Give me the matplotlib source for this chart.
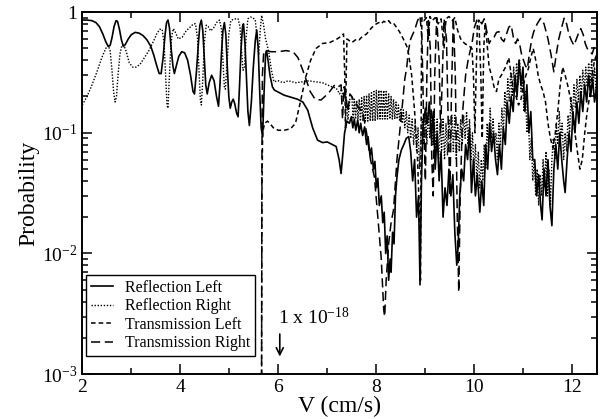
import matplotlib
matplotlib.use("Agg")
import matplotlib.pyplot as plt
from matplotlib.ticker import LogLocator, FixedLocator, FuncFormatter, NullFormatter

plt.rcParams['font.family'] = ['Liberation Serif', 'DejaVu Serif']

# (V, probability)
R_LEFT = [
    (2.00, 0.86), (2.10, 0.86), (2.20, 0.85), (2.28, 0.82), (2.35, 0.76), (2.42, 0.66),
    (2.48, 0.57), (2.53, 0.52), (2.57, 0.53), (2.61, 0.62), (2.65, 0.76), (2.69, 0.85),
    (2.72, 0.84), (2.76, 0.72), (2.80, 0.59), (2.84, 0.52), (2.88, 0.54), (2.94, 0.60),
    (3.00, 0.65), (3.08, 0.68), (3.16, 0.67), (3.24, 0.64), (3.32, 0.59), (3.40, 0.52),
    (3.46, 0.44), (3.52, 0.36), (3.57, 0.31), (3.61, 0.31), (3.65, 0.42), (3.69, 0.65),
    (3.72, 0.82), (3.75, 0.86), (3.78, 0.74), (3.81, 0.52), (3.85, 0.36), (3.88, 0.31),
    (3.92, 0.36), (3.97, 0.43), (4.03, 0.47), (4.09, 0.46), (4.15, 0.40), (4.21, 0.30),
    (4.26, 0.22), (4.29, 0.21), (4.33, 0.32), (4.37, 0.55), (4.40, 0.78), (4.43, 0.86),
    (4.46, 0.70), (4.49, 0.42), (4.52, 0.25), (4.55, 0.21), (4.59, 0.26), (4.64, 0.30),
    (4.69, 0.27), (4.74, 0.20), (4.78, 0.166), (4.81, 0.25), (4.84, 0.45), (4.87, 0.70),
    (4.90, 0.82), (4.93, 0.65), (4.96, 0.35), (4.99, 0.20), (5.02, 0.16), (5.05, 0.18),
    (5.08, 0.19), (5.11, 0.175), (5.15, 0.145), (5.18, 0.136), (5.21, 0.25), (5.24, 0.50),
    (5.27, 0.76), (5.29, 0.80), (5.32, 0.55), (5.35, 0.28), (5.38, 0.15), (5.41, 0.115),
    (5.45, 0.18), (5.49, 0.35), (5.53, 0.58), (5.56, 0.71), (5.59, 0.50), (5.62, 0.22),
    (5.65, 0.11), (5.68, 0.093), (5.71, 0.22), (5.74, 0.45), (5.76, 0.48), (5.79, 0.40),
    (5.83, 0.30), (5.88, 0.24), (5.92, 0.226), (6.12, 0.205),
    (6.39, 0.19), (6.50, 0.18), (6.60, 0.154), (6.70, 0.11), (6.80, 0.087), (6.90, 0.083),
    (7.00, 0.084), (7.10, 0.080), (7.18, 0.077), (7.24, 0.060), (7.28, 0.046), (7.32, 0.070),
    (7.35, 0.099), (7.40, 0.125), (7.45, 0.12), (7.49, 0.136), (7.52, 0.11), (7.55, 0.13),
    (7.58, 0.105), (7.62, 0.128), (7.65, 0.10), (7.68, 0.12), (7.72, 0.095), (7.76, 0.112),
    (7.80, 0.08), (7.83, 0.093), (7.87, 0.065), (7.90, 0.075), (7.94, 0.05), (7.97, 0.058),
    (8.00, 0.035), (8.03, 0.042), (8.06, 0.025), (8.10, 0.03), (8.13, 0.018), (8.16, 0.022),
    (8.19, 0.010), (8.22, 0.014), (8.25, 0.006), (8.28, 0.009), (8.30, 0.007), (8.33, 0.015),
    (8.36, 0.012), (8.39, 0.03), (8.42, 0.043), (8.46, 0.06), (8.51, 0.072), (8.56, 0.08),
    (8.61, 0.09), (8.66, 0.093), (8.70, 0.07), (8.74, 0.04), (8.78, 0.06), (8.82, 0.02),
    (8.86, 0.03), (8.89, 0.0055), (8.92, 0.04), (8.95, 0.11), (9.00, 0.16), (9.04, 0.12),
    (9.08, 0.18), (9.12, 0.09), (9.16, 0.15), (9.20, 0.05), (9.24, 0.10), (9.28, 0.04),
    (9.32, 0.07), (9.36, 0.02), (9.40, 0.035), (9.44, 0.025), (9.48, 0.05), (9.52, 0.03),
    (9.56, 0.045), (9.60, 0.015), (9.64, 0.008), (9.67, 0.012), (9.70, 0.03), (9.74, 0.05),
    (9.78, 0.04), (9.82, 0.08), (9.86, 0.06), (9.90, 0.11), (9.94, 0.032), (9.98, 0.06),
    (10.02, 0.03), (10.06, 0.045), (10.11, 0.022), (10.15, 0.04), (10.19, 0.025), (10.23, 0.08),
    (10.27, 0.05), (10.31, 0.12), (10.35, 0.07), (10.39, 0.10), (10.43, 0.06), (10.47, 0.045),
    (10.51, 0.08), (10.55, 0.05), (10.59, 0.11), (10.63, 0.08), (10.67, 0.18), (10.71, 0.12),
    (10.75, 0.20), (10.79, 0.15), (10.83, 0.30), (10.87, 0.20), (10.91, 0.40), (10.95, 0.25),
    (10.99, 0.35), (11.03, 0.15), (11.07, 0.25), (11.11, 0.10), (11.15, 0.15), (11.19, 0.06),
    (11.23, 0.06), (11.27, 0.03), (11.31, 0.045), (11.35, 0.025), (11.38, 0.019), (11.42, 0.05),
    (11.46, 0.03), (11.50, 0.06), (11.54, 0.025), (11.58, 0.017), (11.62, 0.05), (11.66, 0.08),
    (11.70, 0.05), (11.74, 0.10), (11.78, 0.06), (11.82, 0.04), (11.85, 0.032), (11.89, 0.06),
    (11.93, 0.10), (11.97, 0.07), (12.01, 0.15), (12.05, 0.10), (12.09, 0.18), (12.13, 0.12),
    (12.17, 0.22), (12.21, 0.15), (12.25, 0.25), (12.29, 0.18), (12.33, 0.30), (12.37, 0.20),
    (12.41, 0.28), (12.45, 0.18), (12.50, 0.25),
]

R_RIGHT = [
    (2.00, 0.17), (2.10, 0.20), (2.20, 0.25), (2.30, 0.32), (2.40, 0.42), (2.48, 0.50),
    (2.53, 0.53), (2.57, 0.48), (2.61, 0.32), (2.64, 0.22), (2.67, 0.18), (2.70, 0.20),
    (2.73, 0.30), (2.77, 0.45), (2.81, 0.53), (2.85, 0.53), (2.90, 0.47), (2.96, 0.38),
    (3.03, 0.35), (3.10, 0.35), (3.18, 0.37), (3.27, 0.42), (3.36, 0.48), (3.45, 0.57),
    (3.52, 0.66), (3.58, 0.72), (3.63, 0.72), (3.67, 0.55), (3.70, 0.30), (3.73, 0.17),
    (3.75, 0.16), (3.77, 0.25), (3.80, 0.45), (3.83, 0.65), (3.86, 0.73), (3.90, 0.68),
    (3.96, 0.60), (4.04, 0.62), (4.12, 0.70), (4.20, 0.75), (4.27, 0.80), (4.31, 0.80),
    (4.35, 0.62), (4.38, 0.35), (4.41, 0.19), (4.43, 0.17), (4.46, 0.28), (4.49, 0.55),
    (4.53, 0.78), (4.57, 0.76), (4.62, 0.70), (4.68, 0.74), (4.74, 0.82), (4.80, 0.86),
    (4.84, 0.72), (4.87, 0.40), (4.90, 0.24), (4.92, 0.23), (4.95, 0.35), (4.99, 0.65),
    (5.03, 0.85), (5.08, 0.87), (5.13, 0.88), (5.18, 0.88), (5.22, 0.75), (5.25, 0.48),
    (5.28, 0.33), (5.31, 0.35), (5.34, 0.60), (5.38, 0.88), (5.43, 0.91), (5.48, 0.90),
    (5.53, 0.86), (5.57, 0.60), (5.60, 0.44), (5.63, 0.70), (5.66, 0.94), (5.70, 0.78),
    (5.74, 0.60), (5.80, 0.48), (5.86, 0.33), (5.91, 0.265),
    (6.00, 0.27), (6.10, 0.26), (6.20, 0.27), (6.36, 0.26), (6.50, 0.265), (6.62, 0.27),
    (6.75, 0.265), (6.90, 0.26), (7.00, 0.25), (7.10, 0.24), (7.18, 0.235), (7.25, 0.21),
    (7.29, 0.23), (7.33, 0.19), (7.36, 0.23), (7.39, 0.17), (7.42, 0.128), (7.46, 0.19),
    (7.50, 0.20), (7.525, 0.13), (7.55, 0.19), (7.575, 0.13), (7.60, 0.185), (7.625, 0.13),
    (7.65, 0.19), (7.675, 0.125), (7.70, 0.195), (7.725, 0.125), (7.75, 0.20), (7.775, 0.125),
    (7.80, 0.205), (7.825, 0.125), (7.85, 0.21), (7.875, 0.125), (7.90, 0.215), (7.925, 0.125),
    (7.95, 0.22), (7.975, 0.125), (8.00, 0.225), (8.025, 0.13), (8.05, 0.225), (8.075, 0.13),
    (8.10, 0.226), (8.125, 0.13), (8.15, 0.225), (8.175, 0.13), (8.20, 0.22), (8.225, 0.13),
    (8.25, 0.21), (8.275, 0.13), (8.30, 0.20), (8.325, 0.13), (8.35, 0.19), (8.375, 0.13),
    (8.40, 0.18), (8.425, 0.13), (8.45, 0.17), (8.475, 0.125), (8.50, 0.16), (8.525, 0.12),
    (8.55, 0.155), (8.58, 0.11), (8.61, 0.15), (8.64, 0.10), (8.67, 0.14), (8.70, 0.09),
    (8.73, 0.13), (8.76, 0.08), (8.79, 0.12), (8.82, 0.07), (8.85, 0.11), (8.88, 0.05),
    (8.91, 0.10), (8.94, 0.13), (8.97, 0.08), (9.00, 0.14), (9.03, 0.08), (9.06, 0.15),
    (9.09, 0.09), (9.12, 0.15), (9.15, 0.08), (9.18, 0.14), (9.21, 0.07), (9.24, 0.13),
    (9.27, 0.06), (9.30, 0.12), (9.33, 0.07), (9.36, 0.13), (9.39, 0.06), (9.42, 0.12),
    (9.45, 0.065), (9.48, 0.13), (9.51, 0.07), (9.54, 0.14), (9.57, 0.07), (9.60, 0.14),
    (9.63, 0.06), (9.66, 0.12), (9.69, 0.07), (9.72, 0.13), (9.75, 0.08), (9.78, 0.14),
    (9.81, 0.09), (9.84, 0.15), (9.87, 0.08), (9.90, 0.13), (9.93, 0.06), (9.96, 0.10),
    (9.99, 0.05), (10.02, 0.08), (10.05, 0.04), (10.08, 0.07), (10.11, 0.035), (10.14, 0.06),
    (10.17, 0.04), (10.20, 0.08), (10.23, 0.05), (10.26, 0.12), (10.29, 0.07), (10.32, 0.16),
    (10.35, 0.09), (10.38, 0.13), (10.41, 0.08), (10.44, 0.10), (10.47, 0.06), (10.50, 0.12),
    (10.53, 0.08), (10.56, 0.16), (10.59, 0.10), (10.62, 0.22), (10.65, 0.14), (10.68, 0.28),
    (10.71, 0.18), (10.74, 0.32), (10.77, 0.20), (10.80, 0.35), (10.83, 0.22), (10.86, 0.38),
    (10.89, 0.25), (10.92, 0.40), (10.95, 0.22), (10.98, 0.30), (11.01, 0.15), (11.04, 0.22),
    (11.07, 0.10), (11.10, 0.14), (11.13, 0.06), (11.16, 0.09), (11.19, 0.04), (11.22, 0.06),
    (11.25, 0.03), (11.28, 0.05), (11.31, 0.025), (11.34, 0.045), (11.37, 0.03), (11.40, 0.06),
    (11.43, 0.035), (11.46, 0.07), (11.49, 0.03), (11.52, 0.05), (11.55, 0.025), (11.58, 0.06),
    (11.61, 0.09), (11.64, 0.06), (11.67, 0.12), (11.70, 0.08), (11.73, 0.15), (11.76, 0.09),
    (11.79, 0.12), (11.82, 0.06), (11.85, 0.10), (11.88, 0.07), (11.91, 0.14), (11.94, 0.10),
    (11.97, 0.20), (12.00, 0.13), (12.03, 0.25), (12.06, 0.16), (12.09, 0.28), (12.12, 0.18),
    (12.15, 0.30), (12.18, 0.20), (12.21, 0.33), (12.24, 0.22), (12.27, 0.35), (12.30, 0.24),
    (12.33, 0.38), (12.36, 0.26), (12.39, 0.40), (12.42, 0.25), (12.45, 0.35), (12.48, 0.22),
    (12.50, 0.30),
]

T_LEFT = [
    (5.655, 1e-4), (5.66, 0.002), (5.665, 0.03), (5.68, 0.10), (5.72, 0.12), (5.78, 0.125),
    (5.84, 0.118), (5.90, 0.11), (6.00, 0.105), (6.12, 0.105), (6.25, 0.108), (6.35, 0.12),
    (6.45, 0.18), (6.56, 0.29), (6.66, 0.40), (6.77, 0.50), (6.90, 0.55), (7.05, 0.56),
    (7.20, 0.60), (7.30, 0.64), (7.33, 0.66), (7.355, 0.30), (7.37, 0.11), (7.385, 0.30),
    (7.40, 0.60), (7.45, 0.58), (7.50, 0.56), (7.55, 0.58), (7.60, 0.60), (7.65, 0.59),
    (7.70, 0.62), (7.75, 0.64), (7.80, 0.66), (7.85, 0.70), (7.90, 0.74), (7.96, 0.78),
    (8.00, 0.80), (8.05, 0.82), (8.10, 0.80), (8.15, 0.84), (8.20, 0.82), (8.25, 0.85),
    (8.30, 0.80), (8.35, 0.81), (8.40, 0.76), (8.47, 0.69), (8.55, 0.60), (8.64, 0.50),
    (8.72, 0.30), (8.78, 0.15), (8.84, 0.06), (8.88, 0.02), (8.90, 0.006), (8.91, 0.05),
    (8.92, 0.50), (8.93, 0.90), (8.97, 0.85), (9.02, 0.90), (9.06, 0.60), (9.09, 0.92),
    (9.14, 0.85), (9.20, 0.90), (9.26, 0.80), (9.32, 0.88), (9.38, 0.50), (9.42, 0.88),
    (9.48, 0.92), (9.55, 0.85), (9.60, 0.90), (9.66, 0.70), (9.72, 0.60), (9.80, 0.55),
    (9.90, 0.52), (9.95, 0.50), (9.98, 0.30), (10.01, 0.10), (10.03, 0.25), (10.06, 0.80),
    (10.09, 0.86), (10.13, 0.30), (10.16, 0.09), (10.19, 0.50), (10.22, 0.82), (10.25, 0.60),
    (10.30, 0.35), (10.35, 0.30), (10.40, 0.24), (10.45, 0.22), (10.50, 0.28), (10.55, 0.30),
    (10.60, 0.33), (10.65, 0.36), (10.70, 0.42), (10.75, 0.30), (10.80, 0.22), (10.85, 0.20),
    (10.90, 0.17), (10.95, 0.19), (11.00, 0.25), (11.05, 0.30), (11.10, 0.34), (11.15, 0.42),
    (11.20, 0.50), (11.25, 0.40), (11.30, 0.30), (11.35, 0.25), (11.40, 0.22), (11.45, 0.18),
    (11.50, 0.12), (11.55, 0.09), (11.60, 0.075), (11.65, 0.10), (11.70, 0.15), (11.75, 0.25),
    (11.80, 0.35), (11.85, 0.30), (11.90, 0.25), (11.95, 0.20), (12.00, 0.15), (12.05, 0.10),
    (12.10, 0.07), (12.15, 0.05), (12.20, 0.06), (12.25, 0.10), (12.30, 0.15), (12.35, 0.20),
    (12.40, 0.30), (12.45, 0.40), (12.50, 0.45),
]

T_RIGHT = [
    (5.655, 1e-4), (5.66, 0.002), (5.665, 0.05), (5.675, 0.30), (5.70, 0.45), (5.75, 0.48),
    (5.85, 0.47), (6.00, 0.47), (6.15, 0.48), (6.30, 0.47), (6.40, 0.42), (6.50, 0.33),
    (6.56, 0.28), (6.65, 0.22), (6.75, 0.19), (6.87, 0.187), (6.95, 0.20), (7.05, 0.22),
    (7.15, 0.25), (7.22, 0.24), (7.28, 0.25), (7.31, 0.13), (7.34, 0.24), (7.38, 0.20),
    (7.42, 0.15), (7.46, 0.21), (7.50, 0.20), (7.55, 0.18), (7.60, 0.17), (7.65, 0.16),
    (7.72, 0.15), (7.80, 0.10), (7.88, 0.06), (7.96, 0.043), (8.03, 0.02), (8.10, 0.009),
    (8.15, 0.0034), (8.17, 0.003), (8.20, 0.006), (8.25, 0.012), (8.30, 0.018), (8.35, 0.023),
    (8.42, 0.06), (8.52, 0.154), (8.58, 0.28), (8.62, 0.35), (8.65, 0.47), (8.70, 0.60),
    (8.78, 0.71), (8.84, 0.85), (8.89, 0.93), (8.93, 0.60), (8.96, 0.15), (9.00, 0.04),
    (9.03, 0.30), (9.06, 0.85), (9.10, 0.50), (9.13, 0.06), (9.16, 0.03), (9.19, 0.30),
    (9.23, 0.90), (9.28, 0.40), (9.31, 0.10), (9.34, 0.25), (9.38, 0.88), (9.43, 0.60),
    (9.47, 0.10), (9.50, 0.03), (9.53, 0.20), (9.57, 0.90), (9.61, 0.30), (9.65, 0.02),
    (9.68, 0.0048), (9.71, 0.03), (9.76, 0.15), (9.82, 0.30), (9.88, 0.42), (9.95, 0.55),
    (10.00, 0.75), (10.05, 0.86), (10.10, 0.87), (10.15, 0.80), (10.20, 0.88), (10.25, 0.70),
    (10.30, 0.55), (10.35, 0.60), (10.40, 0.62), (10.45, 0.68), (10.50, 0.69), (10.55, 0.60),
    (10.60, 0.57), (10.65, 0.65), (10.70, 0.75), (10.75, 0.78), (10.80, 0.60), (10.84, 0.55),
    (10.88, 0.60), (10.92, 0.55), (10.96, 0.45), (11.00, 0.40), (11.04, 0.36), (11.08, 0.34),
    (11.12, 0.45), (11.17, 0.60), (11.21, 0.69), (11.28, 0.80), (11.35, 0.89), (11.42, 0.80),
    (11.50, 0.60), (11.56, 0.45), (11.62, 0.32), (11.67, 0.45), (11.72, 0.60), (11.78, 0.75),
    (11.83, 0.89), (11.88, 0.80), (11.93, 0.65), (11.98, 0.58), (12.03, 0.53), (12.08, 0.60),
    (12.13, 0.68), (12.17, 0.73), (12.22, 0.65), (12.26, 0.55), (12.30, 0.50), (12.35, 0.48),
    (12.40, 0.45), (12.45, 0.52), (12.50, 0.55),
]

SERIES = [
    ("Reflection Left", R_LEFT, "-", 1.2),
    ("Reflection Right", R_RIGHT, (0, (1, 1.2)), 1.0),
    ("Transmission Left", T_LEFT, (0, (3, 2)), 1.1),
    ("Transmission Right", T_RIGHT, (0, (6, 3)), 1.1),
]

X_TICKS = [2, 4, 6, 8, 10, 12]
Y_TICKS = [1e-3, 1e-2, 1e-1, 1]
Y_LABELS = {1e-3: r"$\mathregular{10^{-3}}$", 1e-2: r"$\mathregular{10^{-2}}$",
            1e-1: r"$\mathregular{10^{-1}}$", 1: "1"}

fig = plt.figure(figsize=(6, 4.19), dpi=100)
ax = fig.add_axes([0.137, 0.107, 0.858, 0.864])

for label, pts, ls, lw in SERIES:
    v = [p[0] for p in pts]
    prob = [p[1] for p in pts]
    ax.plot(v, prob, color="black", linestyle=ls, linewidth=lw, label=label)

ax.set_yscale("log")
ax.set_xlim(2, 12.5)
ax.set_ylim(1e-3, 1)

ax.xaxis.set_major_locator(FixedLocator(X_TICKS))
ax.xaxis.set_minor_locator(FixedLocator([3, 5, 7, 9, 11]))
ax.yaxis.set_major_locator(FixedLocator(Y_TICKS))
ax.yaxis.set_minor_locator(LogLocator(base=10, subs=range(2, 10)))
ax.yaxis.set_major_formatter(FuncFormatter(lambda y, pos: Y_LABELS.get(y, "")))
ax.yaxis.set_minor_formatter(NullFormatter())

ax.tick_params(which="both", direction="in", top=True, right=True, labelsize=14, width=1.1)
ax.tick_params(which="major", length=7)
ax.tick_params(which="minor", length=4)
for s in ax.spines.values():
    s.set_linewidth(1.4)

ax.set_xlabel("V (cm/s)", fontsize=17, labelpad=0)
ax.set_ylabel("Probability", fontsize=17, labelpad=2)

leg = ax.legend(loc="lower left", bbox_to_anchor=(0.008, 0.05), fontsize=11.5,
                frameon=True, fancybox=False, edgecolor="black", framealpha=1,
                handlelength=1.4, handletextpad=0.7, labelspacing=0.15, borderpad=0.3,
                borderaxespad=0)
leg.get_frame().set_linewidth(1.0)

# annotation: the value at V = 6 is far below the axis
ax.text(6.0, 0.0026, r"1 x 10$\mathregular{^{-18}}$", fontsize=14, ha="left", va="baseline")
ax.annotate("", xy=(6.03, 0.00140), xytext=(6.03, 0.00215),
            arrowprops=dict(arrowstyle="->,head_length=0.5,head_width=0.25",
                            color="black", lw=1.2, shrinkA=0, shrinkB=0))

fig.savefig("out.png", dpi=100)
